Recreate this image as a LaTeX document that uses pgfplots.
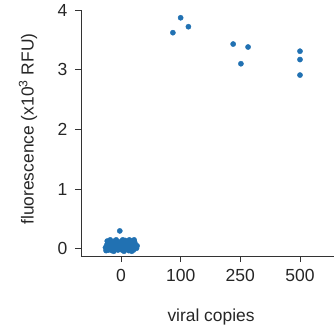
\documentclass[border=0pt]{standalone}
\usepackage{pgfplots}
\pgfplotsset{compat=1.18}
\usepackage{fontspec}
\setmainfont{Liberation Sans}
\definecolor{dotblue}{RGB}{33,113,178}
\begin{document}
\begin{tikzpicture}
\useasboundingbox (-81pt,-79pt) rectangle (253pt,256pt);
\begin{axis}[
  at={(0,0)}, anchor=south west,
  scale only axis, width=253pt, height=246pt,
  xmin=-0.67, xmax=3.57, ymin=-0.12, ymax=4,
  axis x line=bottom, axis y line=left,
  axis line style={-, line width=0.9pt, black!80},
  xtick={0,1,2,3}, xticklabels={0,100,250,500},
  ytick={0,1,2,3,4},
  tick style={line width=0.9pt, black!80},
  tick align=outside, major tick length=6pt,
  /pgf/number format/assume math mode=true,
  tick label style={font=\fontsize{17.5}{20}\selectfont, text=black!85},
  xticklabel style={yshift=-4pt},
  yticklabel style={xshift=-4pt},
  label style={font=\fontsize{17.4}{20}\selectfont, text=black!85},
  xlabel={viral copies},
  ylabel={fluorescence (x10\textsuperscript{3} RFU)},
  xlabel style={at={(axis description cs:0.514,0)}, anchor=center, yshift=-61pt},
  ylabel style={at={(axis description cs:-0.2095,0.516)}, anchor=center, rotate=0},
  clip=false,
]
\addplot[only marks, mark=*, mark size=2.6pt, dotblue, mark options={draw=dotblue, fill=dotblue}] coordinates {
(-0.26,0.02) (-0.24,0.06) (-0.22,0.10) (-0.21,-0.02) (-0.20,0.04) (-0.19,0.08)
(-0.18,0.12) (-0.17,0.01) (-0.16,0.06) (-0.15,-0.03) (-0.14,0.10) (-0.13,0.03)
(-0.12,0.07) (-0.11,0.13) (-0.10,-0.01) (-0.09,0.05) (-0.08,0.09) (-0.07,0.02)
(-0.06,0.12) (-0.05,-0.02) (-0.04,0.06) (-0.03,0.10) (-0.02,0.01) (-0.01,0.08)
(0.00,0.04) (0.01,0.13) (0.02,-0.02) (0.03,0.07) (0.04,0.11) (0.05,0.02)
(0.06,0.05) (0.07,0.14) (0.08,-0.01) (0.09,0.09) (0.10,0.03) (0.11,0.12)
(0.12,0.06) (0.13,-0.03) (0.14,0.10) (0.15,0.02) (0.16,0.07) (0.17,0.13)
(0.18,0.00) (0.19,0.05) (0.20,0.09) (0.21,-0.02) (0.22,0.04) (0.23,0.11)
(0.24,0.07) (0.26,0.01) (0.27,0.05) (-0.25,-0.03) (-0.23,0.13) (-0.18,0.15)
(-0.08,0.15) (0.03,0.15) (0.14,0.15) (0.22,0.15) (-0.12,-0.04) (0.05,-0.04)
(0.18,-0.04) (-0.02,0.30)
(0.87,3.62) (1.00,3.87) (1.13,3.72)
(1.88,3.43) (2.13,3.38) (2.01,3.10)
(3.00,3.31) (3.00,3.17) (3.00,2.91)
};
\end{axis}
\end{tikzpicture}
\end{document}
